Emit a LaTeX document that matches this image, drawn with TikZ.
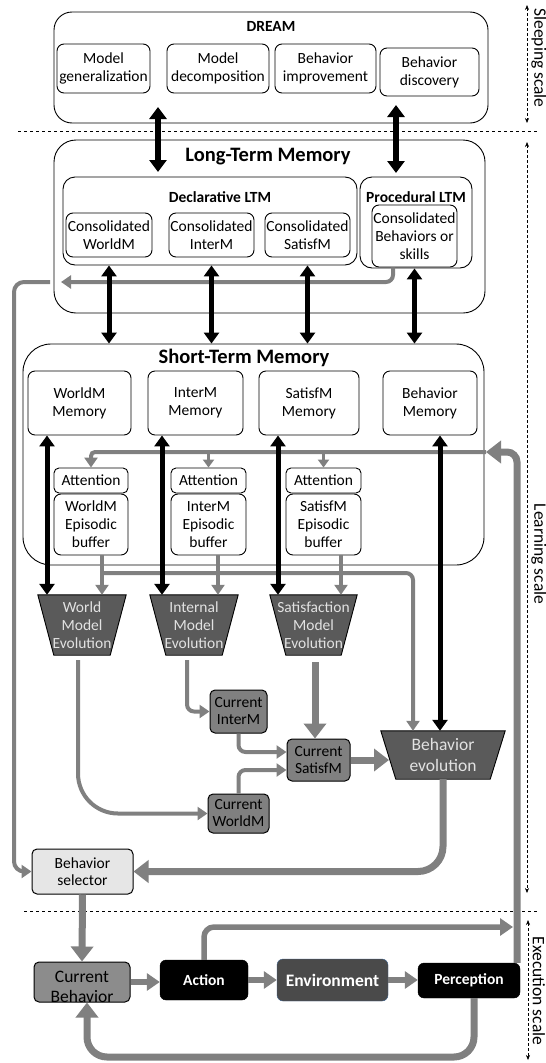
\documentclass[tikz,border=0pt]{standalone}
\usepackage{fontspec}
\setmainfont{Carlito}
\usetikzlibrary{arrows.meta,backgrounds,calc}
\definecolor{gr}{HTML}{808080}
\definecolor{evfill}{HTML}{5A5A5A}
\definecolor{evtext}{HTML}{E2E2E2}
\definecolor{curfill}{HTML}{808080}
\definecolor{selfill}{HTML}{E6E6E6}
\definecolor{cbfill}{HTML}{8C8C8C}
\definecolor{envfill}{HTML}{4A4A4A}
\definecolor{envdraw}{HTML}{3B5F8A}
\tikzset{
  txt/.style={font=\fontsize{15.5}{18}\selectfont, align=center, inner sep=0pt},
  outerbox/.style={draw, line width=0.9pt, rounded corners=18pt, inner sep=0pt},
  rbox/.style={txt, draw, line width=0.9pt, rounded corners=7pt},
  curbox/.style={txt, font=\fontsize{15.5}{17}\selectfont, draw, fill=curfill, line width=1pt, rounded corners=5pt},
  ttl/.style={font=\bfseries\fontsize{15.5}{18}\selectfont, inner sep=0pt},
  bigttl/.style={font=\bfseries\fontsize{20.5}{24}\selectfont, inner sep=0pt},
  evtxt/.style={txt, text=evtext},
  evshape/.style={fill=evfill, draw=black, line width=0.9pt},
  blk/.style={line width=5pt, {Triangle[width=15pt,length=11pt]}-{Triangle[width=15pt,length=11pt]}},
  blkthick/.style={line width=6.5pt, {Triangle[width=17pt,length=12pt]}-{Triangle[width=17pt,length=12pt]}},
  garr/.style={draw=gr, line width=4pt, -{Triangle[width=13pt,length=10pt]}, rounded corners=7pt},
  garrS/.style={draw=gr, line width=3.5pt, -{Triangle[width=11pt,length=8pt]}},
  gmed/.style={draw=gr, line width=5.5pt, -{Triangle[width=17pt,length=13pt]}, rounded corners=10pt},
  gthick/.style={draw=gr, line width=7pt, -{Triangle[width=22pt,length=15pt]}, rounded corners=22pt},
  scalearr/.style={densely dashed, line width=0.6pt, {Stealth[length=5pt,width=4pt]}-{Stealth[length=5pt,width=4pt]}},
  sepline/.style={dashed, line width=0.7pt},
  scalelbl/.style={font=\fontsize{17.5}{20}\selectfont, rotate=-90, inner sep=0pt},
  blackbox/.style={draw=black, fill=black, rounded corners=6pt, text=white, font=\bfseries\fontsize{15.5}{18}\selectfont, inner sep=0pt},
}
\begin{document}
\begin{tikzpicture}[x=1pt,y=-1pt]
\useasboundingbox (0,0) rectangle (546,1063);

% ---------------- DREAM ----------------
\node[outerbox, minimum width=434pt, minimum height=111pt] (dream) at (271,67.5) {};
\node[ttl] (dreamt) at (271,26) {DREAM};
\node[rbox, minimum width=93pt, minimum height=49pt] (mg) at (103.5,68.5) {Model\\generalization};
\node[rbox, minimum width=102pt, minimum height=49pt] (md) at (218,68.5) {Model\\decomposition};
\node[rbox, minimum width=101pt, minimum height=49pt] (bi) at (325.5,68.5) {Behavior\\improvement};
\node[rbox, minimum width=99pt, minimum height=48pt] (bd) at (429.5,72) {Behavior\\discovery};

% ---------------- LTM ----------------
\node[outerbox, rounded corners=22pt, minimum width=431pt, minimum height=173pt] (ltm) at (269.5,226.5) {};
\node[bigttl] (ltmt) at (268,157) {Long-Term Memory};
\node[outerbox, rounded corners=12pt, minimum width=294pt, minimum height=88pt] (decl) at (210,221) {};
\node[ttl] (declt) at (220,197) {Declarative LTM};
\node[outerbox, rounded corners=12pt, minimum width=112pt, minimum height=91pt] (proc) at (416,222.5) {};
\node[ttl] (proct) at (416,197) {Procedural LTM};
\node[rbox, minimum width=86pt, minimum height=44pt] (cw) at (109,235) {Consolidated\\WorldM};
\node[rbox, minimum width=85pt, minimum height=44pt] (ci) at (211.5,235) {Consolidated\\InterM};
\node[rbox, minimum width=85pt, minimum height=44pt] (cs) at (307.5,235) {Consolidated\\SatisfM};
\node[rbox, minimum width=85pt, minimum height=62pt] (cb) at (414.5,236) {Consolidated\\Behaviors or\\skills};

% ---------------- STM ----------------
\node[outerbox, rounded corners=28pt, minimum width=461pt, minimum height=221pt] (stm) at (253.5,454.5) {};
\node[bigttl] (stmt) at (244,358) {Short-Term Memory};
\node[rbox, minimum width=103pt, minimum height=64pt] (wm) at (79.5,403) {WorldM\\Memory};
\node[rbox, minimum width=95pt, minimum height=64pt] (im) at (195.5,403) {InterM\\Memory};
\node[rbox, minimum width=100pt, minimum height=64pt] (sm) at (309,403) {SatisfM\\Memory};
\node[rbox, minimum width=94pt, minimum height=64pt] (bm) at (430,403) {Behavior\\Memory};
\node[rbox, rounded corners=5pt, minimum width=74pt, minimum height=25pt] (at1) at (91,480.5) {Attention};
\node[rbox, rounded corners=5pt, minimum width=75pt, minimum height=25pt] (at2) at (208.5,480.5) {Attention};
\node[rbox, rounded corners=5pt, minimum width=75pt, minimum height=25pt] (at3) at (323.5,480.5) {Attention};
\node[rbox, minimum width=74pt, minimum height=61pt] (bf1) at (91,524.5) {WorldM\\Episodic\\buffer};
\node[rbox, minimum width=75pt, minimum height=61pt] (bf2) at (208.5,524.5) {InterM\\Episodic\\buffer};
\node[rbox, minimum width=75pt, minimum height=61pt] (bf3) at (323.5,524.5) {SatisfM\\Episodic\\buffer};

% ---------------- Evolution ----------------
\node[evtxt, minimum width=88pt, minimum height=60pt] (wme) at (82,625) {World\\Model\\Evolution};
\node[evtxt, minimum width=88pt, minimum height=60pt] (ime) at (194,625) {Internal\\Model\\Evolution};
\node[evtxt, minimum width=87pt, minimum height=60pt] (sme) at (313.5,625) {Satisfaction\\Model\\Evolution};
\node[evtxt, font=\fontsize{17.5}{21}\selectfont, minimum width=124pt, minimum height=48pt] (bev) at (443,755) {Behavior\\evolution};
\begin{scope}[on background layer]
\fill[white] (0,0) rectangle (546,1063);
\draw[evshape] (wme.north west) -- (wme.north east) -- ([xshift=-16pt]wme.south east) -- ([xshift=16pt]wme.south west) -- cycle;
\draw[evshape] (ime.north west) -- (ime.north east) -- ([xshift=-16pt]ime.south east) -- ([xshift=16pt]ime.south west) -- cycle;
\draw[evshape] (sme.north west) -- (sme.north east) -- ([xshift=-16pt]sme.south east) -- ([xshift=16pt]sme.south west) -- cycle;
\draw[evshape] (bev.north west) -- (bev.north east) -- ([xshift=-15pt]bev.south east) -- ([xshift=15pt]bev.south west) -- cycle;
\end{scope}

\node[curbox, minimum width=57pt, minimum height=43pt] (cim) at (238.5,711.5) {Current\\InterM};
\node[curbox, minimum width=63pt, minimum height=42pt] (csm) at (318.5,760) {Current\\SatisfM};
\node[curbox, minimum width=61pt, minimum height=39pt] (cwm) at (238.5,813.5) {Current\\WorldM};
\node[curbox, fill=selfill, minimum width=101pt, minimum height=45pt] (sel) at (82.5,871.5) {Behavior\\selector};

% ---------------- Execution ----------------
\node[curbox, fill=cbfill, minimum width=96pt, minimum height=40pt] (cbh) at (82,982) {};
\begin{scope}
\clip (cbh.south west) rectangle (cbh.north east);
\node[txt, font=\fontsize{17.5}{20}\selectfont] (cbht) at ([yshift=-5pt]cbh.center) {Current\\Behavior};
\end{scope}
\node[blackbox, minimum width=88pt, minimum height=40pt] (act) at (204,980) {Action};
\node[blackbox, fill=envfill, draw=envdraw, font=\bfseries\fontsize{17.5}{20}\selectfont, minimum width=111pt, minimum height=42pt] (env) at (332.5,980) {Environment};
\node[blackbox, minimum width=102pt, minimum height=35pt] (per) at (469,980.5) {Perception};

% ---------------- helper coordinates ----------------
\coordinate (d1t) at (158,107); \coordinate (d1b) at (158,172);
\coordinate (d2t) at (396,105); \coordinate (d2b) at (396,173);
\coordinate (cA) at (47,0); \coordinate (cB) at (162,0); \coordinate (cC) at (278,0); \coordinate (cD) at (440,0);
\coordinate (gA) at (102,0); \coordinate (gB) at (218,0); \coordinate (gC) at (341,0);
\coordinate (hB) at (413,0); \coordinate (brY) at (0,573);
\coordinate (skX) at (393,0); \coordinate (ltmIn) at (61,282); \coordinate (ltmOut) at (50,282); \coordinate (lftX) at (14,0);
\coordinate (attR) at (486,452); \coordinate (rX) at (517,0);
\coordinate (actTip) at (513,927);
\coordinate (perX) at (474,0); \coordinate (botL) at (87,1057);
\coordinate (bevL) at (389,0);
\coordinate (x187) at (187,0); \coordinate (x78) at (78,0); \coordinate (x315) at (315,0);

% ---------------- separators and scales ----------------
\coordinate (sep1a) at (18,131); \coordinate (sep1b) at (537,131);
\coordinate (sep2a) at (24,911); \coordinate (sep2b) at (537,911);
\draw[sepline] (sep1a) -- (sep1b);
\draw[sepline] (sep2a) -- (sep2b);
\coordinate (s1a) at (527,5); \coordinate (s1b) at (527,123);
\coordinate (s2a) at (527,142); \coordinate (s2b) at (527,893);
\coordinate (s3a) at (528,920); \coordinate (s3b) at (528,1060);
\draw[scalearr] (s1a) -- (s1b);
\draw[scalearr] (s2a) -- (s2b);
\draw[scalearr] (s3a) -- (s3b);
\node[scalelbl] (sl) at (539,58) {Sleeping scale};
\node[scalelbl] (ll) at (539,554) {Learning scale};
\node[scalelbl] (el) at (539,991) {Execution scale};

% ---------------- gray connectors ----------------
\draw[gthick, rounded corners=10pt] (per.north -| rX) -- (rX |- attR) -- (attR);
\draw[garr, rounded corners=4pt] (attR) -- (attR -| at1.north) -- (at1.north);
\draw[garrS] (attR -| at2.north) -- (at2.north);
\draw[garrS] (attR -| at3.north) -- (at3.north);

\draw[garr] (cb.south -| skX) |- (ltmIn);
\draw[garr, rounded corners=10pt] (ltmOut) -- (ltmOut -| lftX) -- (lftX |- sel.west) -- (sel.west);

\draw[garr] (gA |- brY) -| (bev.north -| hB);
\draw[garr] (bf1.south -| gA) -- (wme.north -| gA);
\draw[garr] (bf2.south -| gB) -- (ime.north -| gB);
\draw[garr] (bf3.south -| gC) -- (sme.north -| gC);

\draw[garr, rounded corners=40pt] ($(wme.south -| x78)+(0,5)$) |- (cwm.west);
\draw[garr] ($(ime.south -| x187)+(0,5)$) |- (cim.west);
\draw[gthick] ($(sme.south -| x315)+(0,7)$) -- (csm.north -| x315);
\draw[garr] (cim.south) |- ($(csm.west)+(0,-8)$);
\draw[garr] (cwm.north) |- ($(csm.west)+(0,10)$);
\draw[gthick] (csm.east) -- (csm.east -| bevL);
\draw[gthick, rounded corners=25pt] (bev.south) |- (sel.east);
\draw[gthick] (sel.south) -- (cbh.north);

\draw[gmed] (cbh.east) -- (cbh.east -| act.west);
\draw[gmed] (act.east) -- (env.west);
\draw[gmed] (env.east) -- (env.east -| per.west);
\draw[gmed] (act.north) |- (actTip);
\draw[gthick, rounded corners=20pt] (per.south -| perX) |- (botL) -- (botL |- cbh.south);

% ---------------- black connectors ----------------
\draw[blkthick] (d1t) -- (d1b);
\draw[blkthick] (d2t) -- (d2b);
\draw[blk] (cw |- decl.south) -- (cw |- stm.north);
\draw[blk] (ci |- decl.south) -- (ci |- stm.north);
\draw[blk] (cs |- decl.south) -- (cs |- stm.north);
\draw[blk] (cb |- proc.south) -- (cb |- stm.north);
\draw[blk] (wm.south -| cA) -- (wme.north -| cA);
\draw[blk] (im.south -| cB) -- (ime.north -| cB);
\draw[blk] (sm.south -| cC) -- (sme.north -| cC);
\draw[blk] (bm.south -| cD) -- (bev.north -| cD);
\end{tikzpicture}
\end{document}
